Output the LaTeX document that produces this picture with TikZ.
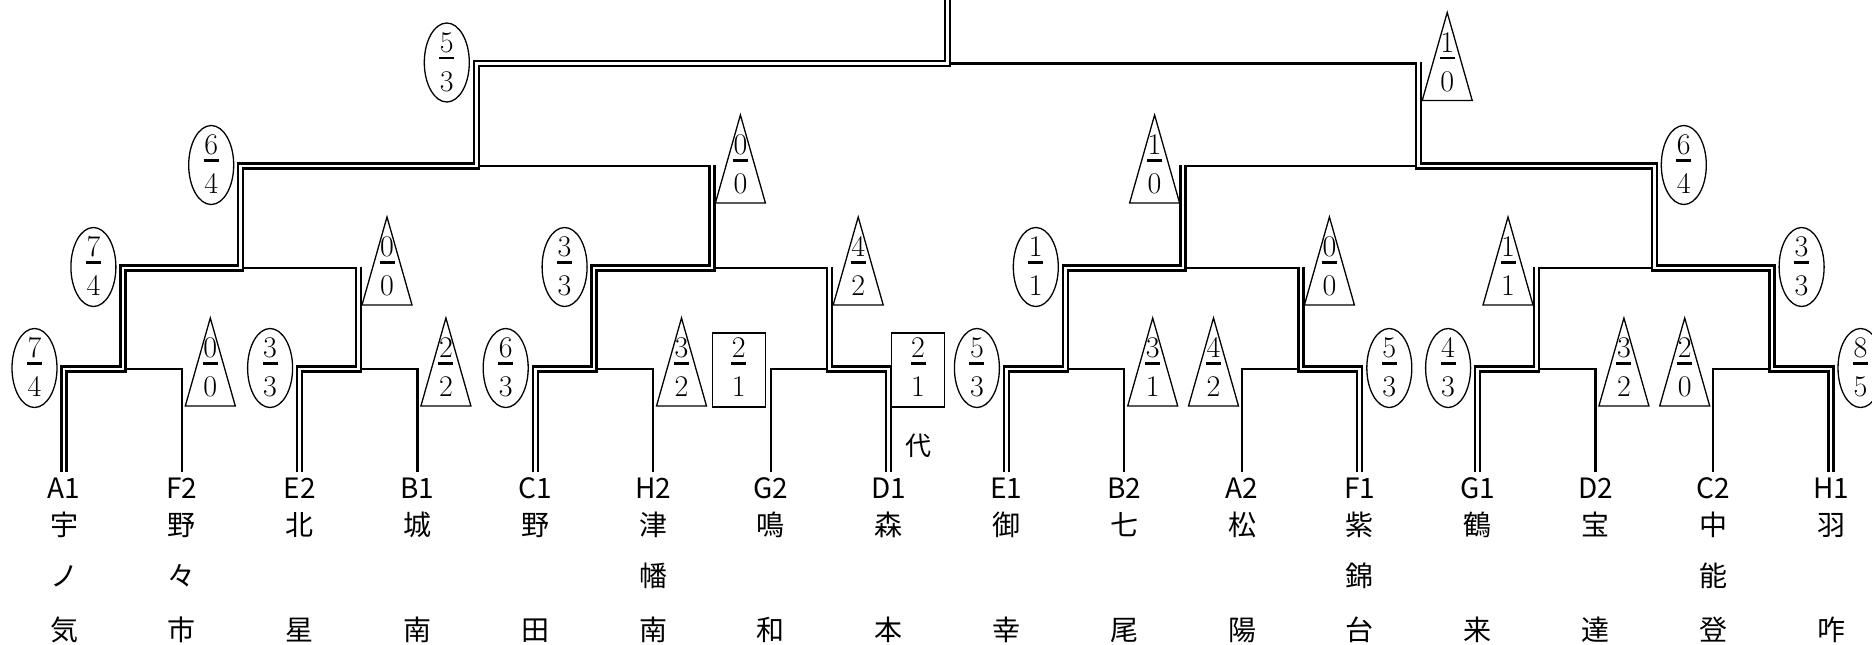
\documentclass[tikz,border=0pt]{standalone}
\usepackage{fontspec}
\newfontfamily\jp{Noto Sans CJK JP}
\usetikzlibrary{shapes.geometric}
\tikzset{
  win/.style={double, line width=1.15pt, double distance=1.35pt},
  lose/.style={line width=1.15pt},
  markline/.style={line width=0.65pt},
  ellmark/.style={draw, ellipse, markline, minimum width=22.5pt, minimum height=39.5pt, inner sep=0pt},
  boxmark/.style={draw, rectangle, markline, minimum width=26.5pt, minimum height=37pt, inner sep=0pt},
  digit/.style={anchor=base, inner sep=0pt, font=\fontsize{15}{18}\selectfont},
  fracbar/.style={line width=1.15pt},
  team/.style={anchor=base, inner sep=0pt, font=\jp\fontsize{14}{16}\selectfont},
}
\newcommand\mkfrac[5]{%
  \node[digit] (#1n) at (#2,#3-11.5) {#4};
  \draw[fracbar] (#2-7.5,#3-5.5) -- (#2+7.5,#3-5.5);
  \node[digit] (#1d) at (#2,#3+27.5) {#5};}
\newcommand\ellmk[5]{\node[ellmark] (#1) at (#2,#3-1) {};\mkfrac{#1}{#2}{#3}{#4}{#5}}
\newcommand\trimk[5]{\coordinate (#1) at (#2,#3);
  \draw[markline] (#2-25,#3+37) -- (#2,#3-51) -- (#2+25,#3+37) -- cycle;
  \mkfrac{#1}{#2}{#3}{#4}{#5}}
\newcommand\boxmk[5]{\node[boxmark] (#1) at (#2,#3+1) {};\mkfrac{#1}{#2}{#3}{#4}{#5}}
\newcommand\leaf[4]{%
  \coordinate (p#1) at (#2,472);
  \node[team] (t#1) at (#2,498) {#1};
  \node[team] (k#1a) at (#2,535.5) {#3};
  \node[team] (k#1c) at (#2,640) {#4};}
\begin{document}
\begin{tikzpicture}[x=0.5pt,y=-0.5pt]
\useasboundingbox (0,0) rectangle (1872,644);
% leaves
\leaf{A1}{64}{宇}{気}
\leaf{F2}{181.8}{野}{市}
\leaf{E2}{299.6}{北}{星}
\leaf{B1}{417.4}{城}{南}
\leaf{C1}{535.2}{野}{田}
\leaf{H2}{653}{津}{南}
\leaf{G2}{770.8}{鳴}{和}
\leaf{D1}{888.6}{森}{本}
\leaf{E1}{1006.4}{御}{幸}
\leaf{B2}{1124.2}{七}{尾}
\leaf{A2}{1242}{松}{陽}
\leaf{F1}{1359.8}{紫}{台}
\leaf{G1}{1477.6}{鶴}{来}
\leaf{D2}{1595.4}{宝}{達}
\leaf{C2}{1713.2}{中}{登}
\leaf{H1}{1831}{羽}{咋}
\node[team] (kA1b) at (64,586) {ノ};
\node[team] (kF2b) at (181.8,586) {々};
\node[team] (kH2b) at (653,586) {幡};
\node[team] (kF1b) at (1359.8,586) {錦};
\node[team] (kC2b) at (1713.2,586) {能};
\node[font=\jp\fontsize{13}{15}\selectfont, inner sep=0pt] (dai) at (918,446) {代};
% junctions
\coordinate (n1a) at (122.9,369);
\coordinate (n1b) at (358.5,369);
\coordinate (n1c) at (594.1,369);
\coordinate (n1d) at (829.7,369);
\coordinate (n1e) at (1065.3,369);
\coordinate (n1f) at (1300.9,369);
\coordinate (n1g) at (1536.5,369);
\coordinate (n1h) at (1772.1,369);
\coordinate (n2a) at (240.7,268);
\coordinate (n2b) at (711.9,268);
\coordinate (n2c) at (1183.1,268);
\coordinate (n2d) at (1654.3,268);
\coordinate (n3a) at (476.3,166);
\coordinate (n3b) at (1418.7,166);
\coordinate (root) at (947.5,63.5);
\coordinate (top) at (947.5,-5);
% single lines (losers)
\draw[lose] (pF2) |- (n1a);
\draw[lose] (pB1) |- (n1b);
\draw[lose] (pH2) |- (n1c);
\draw[lose] (pG2) |- (n1d);
\draw[lose] (pB2) |- (n1e);
\draw[lose] (pA2) |- (n1f);
\draw[lose] (pD2) |- (n1g);
\draw[lose] (pC2) |- (n1h);
\draw[lose] (n1b |- n2a) -- (n2a);
\draw[lose] (n1d |- n2b) -- (n2b);
\draw[lose] (n1f |- n2c) -- (n2c);
\draw[lose] (n1g |- n2d) -- (n2d);
\draw[lose] (n2b |- n3a) -- (n3a);
\draw[lose] (n2c |- n3b) -- (n3b);
\draw[lose] (n3b |- root) -- (root);
% double lines (winners)
\draw[win] (pA1) |- (n1a) |- (n2a) |- (n3a) |- (root) -- (top);
\draw[win, shorten >=-0.575pt] (pE2) |- (n1b) -- (n1b |- n2a);
\draw[win, shorten >=-0.575pt] (pC1) |- (n1c) |- (n2b) -- (n2b |- n3a);
\draw[win, shorten >=-0.575pt] (pD1) |- (n1d) -- (n1d |- n2b);
\draw[win, shorten >=-0.575pt] (pE1) |- (n1e) |- (n2c) -- (n2c |- n3b);
\draw[win, shorten >=-0.575pt] (pF1) |- (n1f) -- (n1f |- n2c);
\draw[win, shorten >=-0.575pt] (pG1) |- (n1g) -- (n1g |- n2d);
\draw[win, shorten >=-0.575pt] (pH1) |- (n1h) |- (n2d) |- (n3b) -- (n3b |- root);
% marks, round 1
\ellmk{mA1}{34.5}{369}{7}{4}
\trimk{mF2}{210.3}{369}{0}{0}
\ellmk{mE2}{270.1}{369}{3}{3}
\trimk{mB1}{445.9}{369}{2}{2}
\ellmk{mC1}{505.7}{369}{6}{3}
\trimk{mH2}{681.5}{369}{3}{2}
\boxmk{mG2}{738.7}{369}{2}{1}
\boxmk{mD1}{918}{369}{2}{1}
\ellmk{mE1}{976.9}{369}{5}{3}
\trimk{mB2}{1152.7}{369}{3}{1}
\trimk{mA2}{1213.5}{369}{4}{2}
\ellmk{mF1}{1389.3}{369}{5}{3}
\ellmk{mG1}{1448.1}{369}{4}{3}
\trimk{mD2}{1623.9}{369}{3}{2}
\trimk{mC2}{1684.7}{369}{2}{0}
\ellmk{mH1}{1860.5}{369}{8}{5}
% marks, round 2
\ellmk{qTwoA}{93.4}{268}{7}{4}
\trimk{qTwoB}{387}{268}{0}{0}
\ellmk{qTwoC}{564.6}{268}{3}{3}
\trimk{qTwoD}{858.2}{268}{4}{2}
\ellmk{qTwoE}{1035.8}{268}{1}{1}
\trimk{qTwoF}{1329.4}{268}{0}{0}
\trimk{qTwoG}{1508}{268}{1}{1}
\ellmk{qTwoH}{1801.6}{268}{3}{3}
% marks, round 3
\ellmk{qThrA}{211.2}{166}{6}{4}
\trimk{qThrB}{740.4}{166}{0}{0}
\trimk{qThrC}{1154.6}{166}{1}{0}
\ellmk{qThrD}{1683.8}{166}{6}{4}
% marks, round 4
\ellmk{qFouA}{446.8}{63.5}{5}{3}
\trimk{qFouB}{1447.2}{63.5}{1}{0}
\end{tikzpicture}
\end{document}
